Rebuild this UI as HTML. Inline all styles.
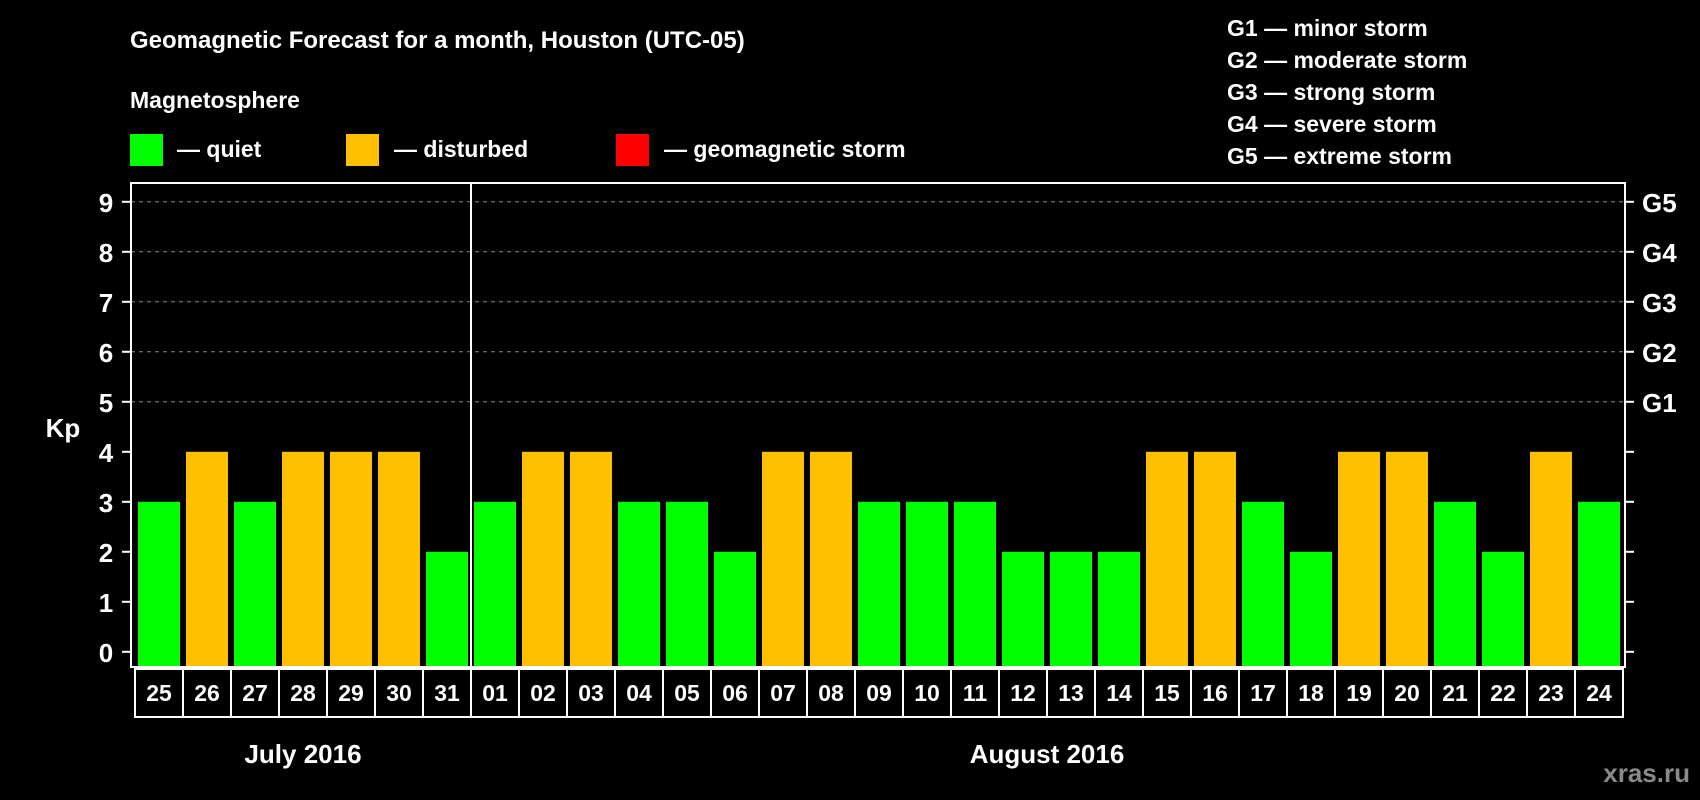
<!DOCTYPE html>
<html><head><meta charset="utf-8"><style>
html,body{margin:0;padding:0;background:#000;}
svg{display:block;font-family:"Liberation Sans",Arial,sans-serif;font-weight:bold;}
</style></head><body>
<svg id="chart" width="1700" height="800" xmlns="http://www.w3.org/2000/svg">
<rect width="1700" height="800" fill="#000"/>
<text x="130" y="48" fill="#fff" font-size="24">Geomagnetic Forecast for a month, Houston (UTC-05)</text>
<text x="130" y="108" fill="#fff" font-size="23">Magnetosphere</text>
<g><rect x="130" y="134" width="33" height="32" fill="#00ff00"/><text x="177" y="157" fill="#fff" font-size="23">— quiet</text></g>
<g><rect x="346" y="134" width="33" height="32" fill="#ffc000"/><text x="394" y="157" fill="#fff" font-size="23">— disturbed</text></g>
<g><rect x="616" y="134" width="33" height="32" fill="#ff0000"/><text x="664" y="157" fill="#fff" font-size="23">— geomagnetic storm</text></g>
<g fill="#fff" font-size="23">
<text x="1227" y="36">G1 — minor storm</text>
<text x="1227" y="68">G2 — moderate storm</text>
<text x="1227" y="100">G3 — strong storm</text>
<text x="1227" y="132">G4 — severe storm</text>
<text x="1227" y="164">G5 — extreme storm</text>
</g>
<text x="63" y="437" fill="#fff" font-size="26" text-anchor="middle">Kp</text>
<text x="1690" y="782" fill="#8a8a8a" font-size="26" text-anchor="end">xras.ru</text>
<g id="plot"></g>
</svg>
<script>
const days = ["25","26","27","28","29","30","31","01","02","03","04","05","06","07","08","09","10","11","12","13","14","15","16","17","18","19","20","21","22","23","24"];
const kp = [3,4,3,4,4,4,2,3,4,4,3,3,2,4,4,3,3,3,2,2,2,4,4,3,2,4,4,3,2,4,3];
const yTicks = [0,1,2,3,4,5,6,7,8,9];
const gLabels = ["G1","G2","G3","G4","G5"];
const months = ["July 2016","August 2016"];
const monthStart = [0,7];

const NS="http://www.w3.org/2000/svg";
const g=document.getElementById('plot');
const L=131,R=1625,T=183,B=667,x0=135,pitch=48,bw=42;
const y=v=>651.8-v*50;
const xc=i=>x0+(i+0.5)*pitch;
function mk(tag,attrs,parent){const e=document.createElementNS(NS,tag);for(const k in attrs)e.setAttribute(k,attrs[k]);(parent||g).appendChild(e);return e;}

yTicks.forEach(v=>{
  if(v>=5){const gl=mk('line',{x1:L,x2:R,y1:y(v),y2:y(v),stroke:'#888','stroke-dasharray':'4,4','stroke-width':1});
  
  }
  mk('line',{x1:L-9,x2:L,y1:y(v),y2:y(v),stroke:'#fff','stroke-width':2});
  mk('line',{x1:R,x2:R+9,y1:y(v),y2:y(v),stroke:'#fff','stroke-width':2});
  const t=mk('text',{x:106,y:y(v)+10,fill:'#fff','font-size':26,'text-anchor':'middle'});t.textContent=v;
  
  
});
gLabels.forEach((s,i)=>{
  const t=mk('text',{x:1642,y:y(5+i)+10,fill:'#fff','font-size':26});t.textContent=s;
  
  
});
kp.forEach((v,i)=>{
  const b=mk('rect',{x:xc(i)-bw/2,y:y(v),width:bw,height:B-y(v),fill:v>=5?'#ff0000':(v>=4?'#ffc000':'#00ff00')});
  
  
  const c=mk('rect',{x:x0+i*pitch,y:B+2,width:pitch,height:48,fill:'none',stroke:'#fff','stroke-width':2});
  
  
  const t=mk('text',{x:xc(i),y:B+34,fill:'#fff','font-size':23,'text-anchor':'middle'});t.textContent=days[i];
  
  
});
const frame=mk('rect',{x:L,y:T,width:R-L,height:B-T,fill:'none',stroke:'#fff','stroke-width':2});


const divx=x0+monthStart[1]*pitch;
const dv=mk('line',{x1:divx,x2:divx,y1:T,y2:B,stroke:'#fff','stroke-width':2});


months.forEach((m,k)=>{
  const s=monthStart[k],e=k+1<monthStart.length?monthStart[k+1]:days.length;
  const t=mk('text',{x:(xc(s)+xc(e-1))/2,y:763,fill:'#fff','font-size':26,'text-anchor':'middle'});t.textContent=m;
  
  
});
</script>
</body></html>
